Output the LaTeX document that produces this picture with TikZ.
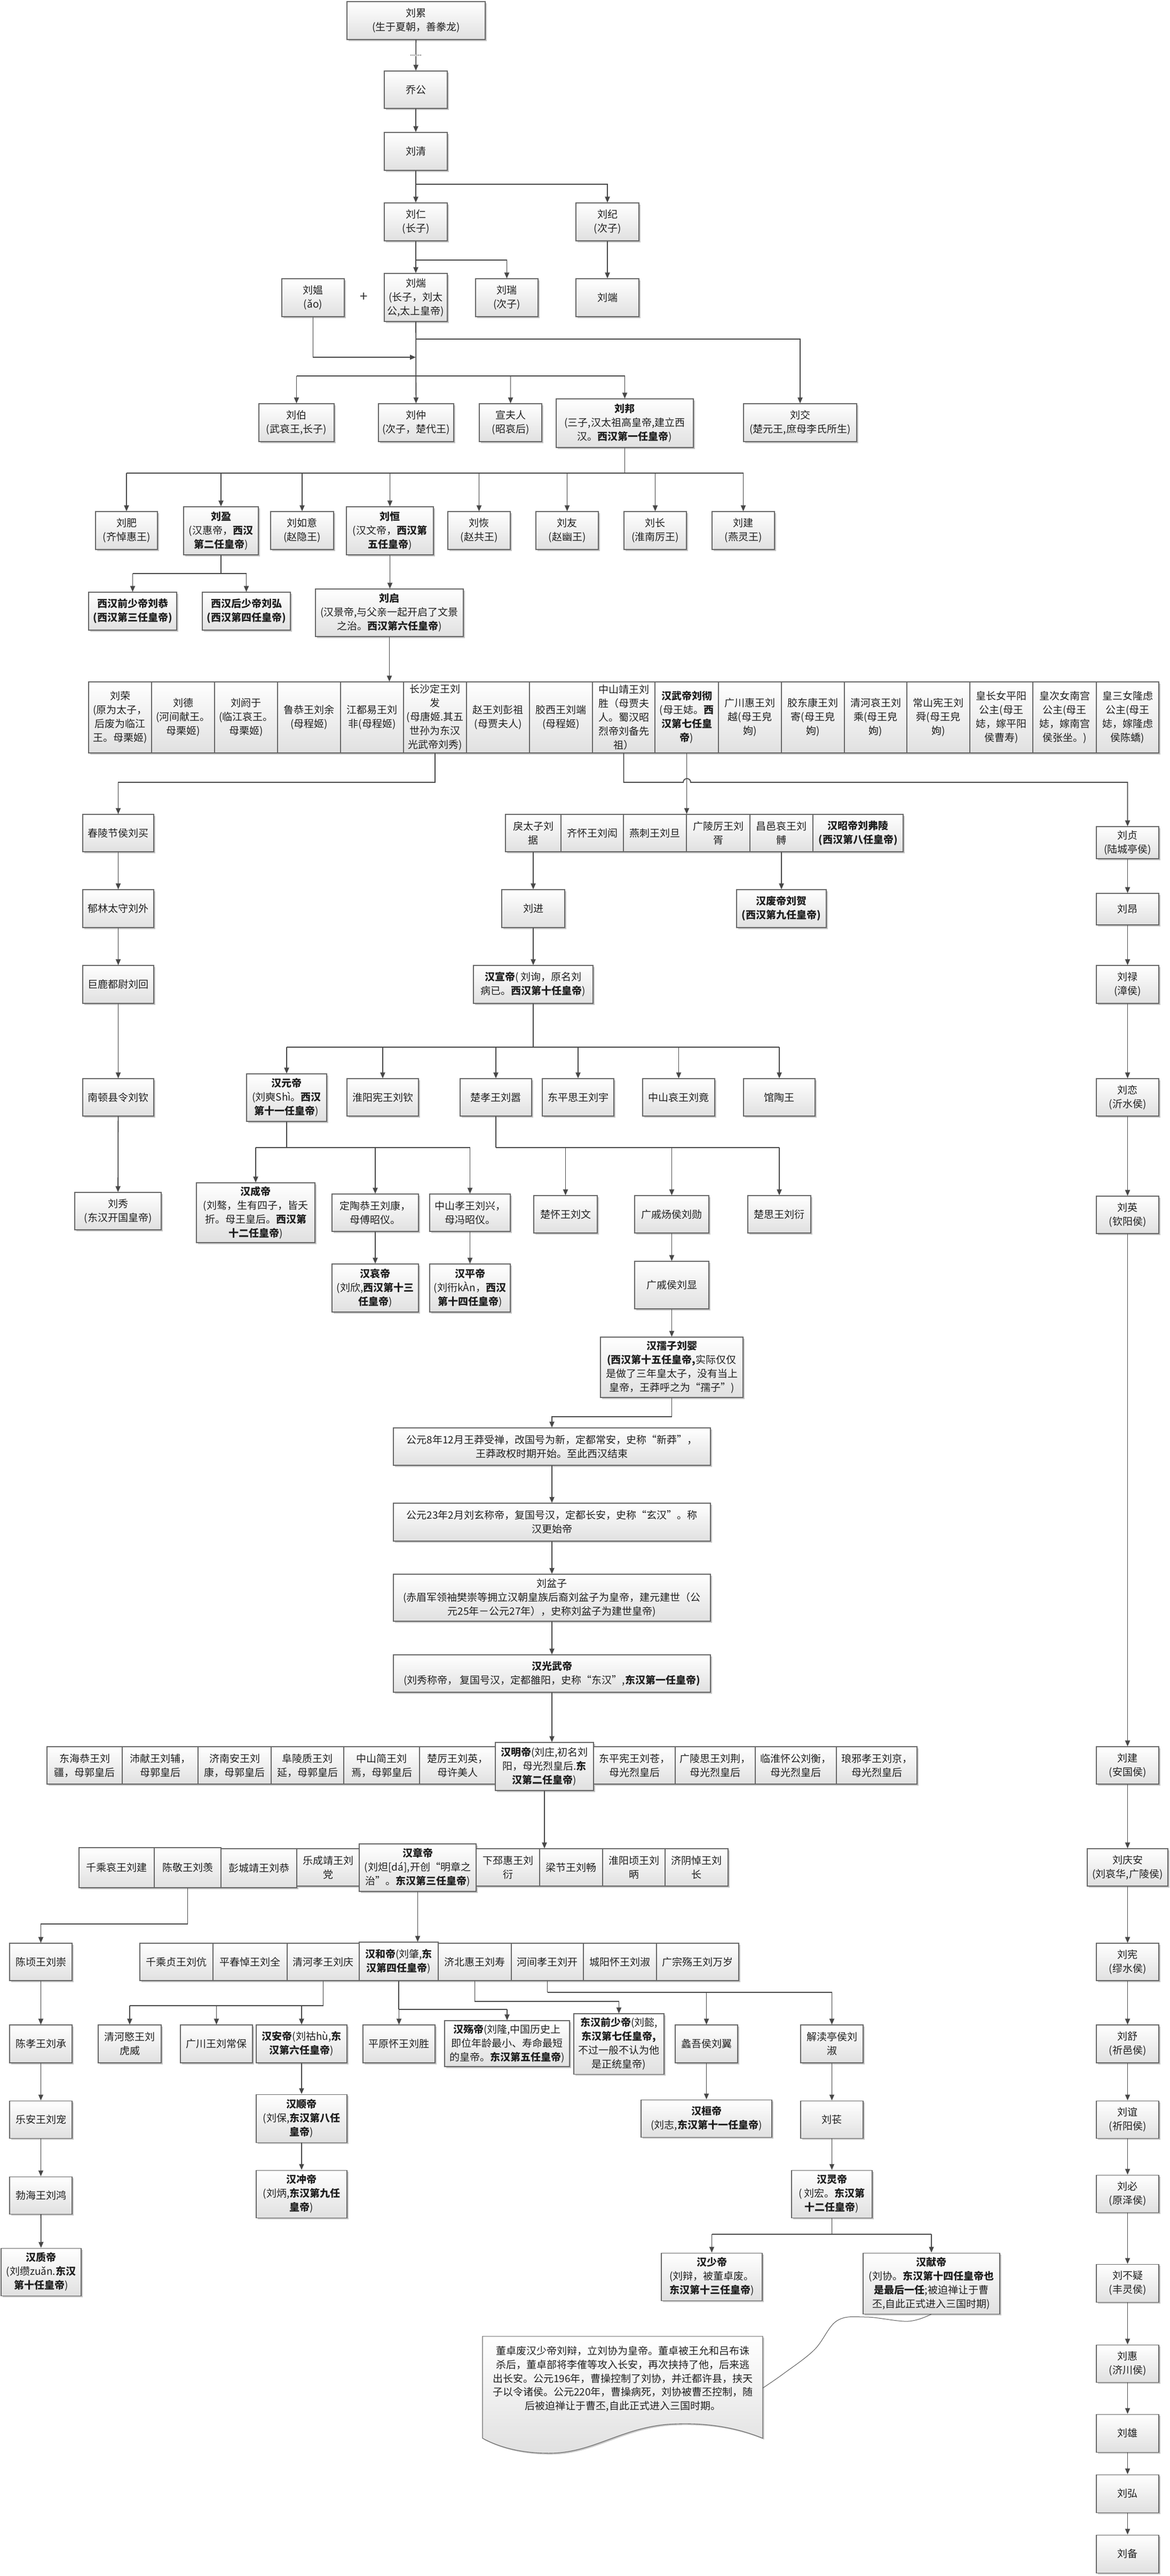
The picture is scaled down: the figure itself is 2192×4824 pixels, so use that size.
\documentclass[tikz,border=0pt]{standalone}
\usepackage{fontspec}
\setmainfont{Noto Sans CJK SC}
\usetikzlibrary{arrows.meta,shadows}
\tikzset{
  box/.style={draw=black!60, line width=1.1pt, top color=white, bottom color=black!12,
    align=center, inner sep=0pt, text=black!88, font=\fontsize{19}{26}\selectfont,
    general shadow={fill=black!22, shadow xshift=2.5pt, shadow yshift=-2.5pt}},
  ln/.style={line width=1.8pt, draw=black!72},
  ar/.style={ln, -{Triangle[length=11pt,width=9pt]}},
}
\newcommand\bxn[6]{%
  \pgfmathsetmacro\myW{#4-#2}\pgfmathsetmacro\myH{#5-#3}%
  \pgfmathsetmacro\myX{(#2+#4)/2}\pgfmathsetmacro\myY{(#3+#5)/2}%
  \node[box, minimum width=\myW pt, minimum height=\myH pt] (#1) at (\myX,\myY) {#6};}
\newcommand\fan[3]{%
  \draw[ln] (#1.south) -- (#1.south |- 0,#2);
  \foreach \kid in {#3}{\draw[ln] (#1.south |- 0,#2) -- (\kid.north |- 0,#2);
    \draw[ar] (\kid.north |- 0,#2) -- (\kid.north);}}
\begin{document}
\begin{tikzpicture}[x=1pt,y=-1pt]
\useasboundingbox (0,0) rectangle (2192,4824);
\fill[white] (0,0) rectangle (2192,4824);

% ---------- top ancestry ----------
\bxn{lei}{650}{3}{909}{74}{刘累\\(生于夏朝，善豢龙)}
\bxn{qiao}{720}{133}{838}{203}{乔公}
\bxn{qing}{720}{248}{838}{319}{刘清}
\bxn{ren}{720}{380}{838}{451}{刘仁\\(长子)}
\bxn{ji}{1079}{380}{1197}{451}{刘纪\\(次子)}
\bxn{tuan}{720}{512}{838}{602}{刘煓\\(长子，刘太\\公,太上皇帝)}
\bxn{rui}{891}{522}{1008}{593}{刘瑞\\(次子)}
\bxn{duan}{1079}{522}{1197}{593}{刘端}
\bxn{ao}{528}{522}{645}{593}{刘媪\\(ǎo)}
\node[font=\fontsize{26}{26}\selectfont, text=black!80] (plus) at (682,556) {+};
\coordinate (aoj) at (779,669);
\bxn{bo}{485}{756}{626}{827}{刘伯\\(武哀王,长子)}
\bxn{zhong}{709}{756}{850}{827}{刘仲\\(次子，楚代王)}
\bxn{xuan}{898}{756}{1015}{827}{宣夫人\\(昭哀后)}
\bxn{bang}{1042}{747}{1299}{838}{\textbf{刘邦}\\(三子,汉太祖高皇帝,建立西\\汉。\textbf{西汉第一任皇帝})}
\bxn{jiao}{1393}{756}{1605}{827}{刘交\\(楚元王,庶母李氏所生)}

% ---------- Liu Bang's sons ----------
\bxn{fei}{179}{958}{295}{1029}{刘肥\\(齐悼惠王)}
\bxn{ying}{344}{949}{484}{1039}{\textbf{刘盈}\\(汉惠帝，\textbf{西汉}\\\textbf{第二任皇帝})}
\bxn{ruyi}{507}{958}{625}{1029}{刘如意\\(赵隐王)}
\bxn{heng}{649}{949}{812}{1039}{\textbf{刘恒}\\(汉文帝，\textbf{西汉第}\\\textbf{五任皇帝})}
\bxn{hui}{839}{958}{956}{1029}{刘恢\\(赵共王)}
\bxn{you}{1004}{958}{1121}{1029}{刘友\\(赵幽王)}
\bxn{chang}{1169}{958}{1286}{1029}{刘长\\(淮南厉王)}
\bxn{jianA}{1334}{958}{1451}{1029}{刘建\\(燕灵王)}
\bxn{gong}{166}{1109}{331}{1180}{\textbf{西汉前少帝刘恭}\\\textbf{(西汉第三任皇帝)}}
\bxn{hong}{379}{1109}{544}{1180}{\textbf{西汉后少帝刘弘}\\\textbf{(西汉第四任皇帝)}}
\bxn{qi}{591}{1103}{868}{1192}{\textbf{刘启}\\(汉景帝,与父亲一起开启了文景\\之治。\textbf{西汉第六任皇帝})}

% ---------- Liu Qi's children row ----------
\bxn{rong}{166}{1277}{284}{1410}{刘荣\\(原为太子，\\后废为临江\\王。母栗姬)}
\bxn{de}{284}{1277}{402}{1410}{刘德\\(河间献王。\\母栗姬)}
\bxn{eyu}{402}{1277}{520}{1410}{刘阏于\\(临江哀王。\\母栗姬)}
\bxn{yu}{520}{1277}{638}{1410}{鲁恭王刘余\\(母程姬)}
\bxn{jiangdu}{638}{1277}{756}{1410}{江都易王刘\\非(母程姬)}
\bxn{changsha}{756}{1277}{874}{1410}{长沙定王刘\\发\\(母唐姬.其五\\世孙为东汉\\光武帝刘秀)}
\bxn{pengzu}{874}{1277}{992}{1410}{赵王刘彭祖\\(母贾夫人)}
\bxn{duan2}{992}{1277}{1110}{1410}{胶西王刘端\\(母程姬)}
\bxn{zhongshan}{1110}{1277}{1227}{1410}{中山靖王刘\\胜（母贾夫\\人。蜀汉昭\\烈帝刘备先\\祖）}
\bxn{wudi}{1227}{1277}{1346}{1410}{\textbf{汉武帝刘彻}\\(母王娡。\textbf{西}\\\textbf{汉第七任皇}\\\textbf{帝})}
\bxn{yue}{1346}{1277}{1464}{1410}{广川惠王刘\\越(母王皃\\姁)}
\bxn{jiqi}{1464}{1277}{1582}{1410}{胶东康王刘\\寄(母王皃\\姁)}
\bxn{chengh}{1582}{1277}{1699}{1410}{清河哀王刘\\乘(母王皃\\姁)}
\bxn{shun}{1699}{1277}{1817}{1410}{常山宪王刘\\舜(母王皃\\姁)}
\bxn{pingyang}{1817}{1277}{1935}{1410}{皇长女平阳\\公主(母王\\娡，嫁平阳\\侯曹寿)}
\bxn{nangong}{1935}{1277}{2054}{1410}{皇次女南宫\\公主(母王\\娡，嫁南宫\\侯张坐。)}
\bxn{longlv}{2054}{1277}{2171}{1410}{皇三女隆虑\\公主(母王\\娡，嫁隆虑\\侯陈蟜)}

% ---------- left chain to Liu Xiu ----------
\bxn{chunling}{155}{1525}{288}{1595}{春陵节侯刘买}
\bxn{yulin}{155}{1666}{288}{1737}{郁林太守刘外}
\bxn{julu}{155}{1808}{288}{1879}{巨鹿都尉刘回}
\bxn{nandun}{155}{2020}{288}{2090}{南顿县令刘钦}
\bxn{xiu}{140}{2233}{302}{2303}{刘秀\\(东汉开国皇帝)}

% ---------- Wudi's sons ----------
\bxn{ju}{947}{1525}{1051}{1595}{戾太子刘\\据}
\bxn{hongq}{1051}{1525}{1168}{1595}{齐怀王刘闳}
\bxn{dan}{1168}{1525}{1286}{1595}{燕刺王刘旦}
\bxn{xu}{1286}{1525}{1405}{1595}{广陵厉王刘\\胥}
\bxn{bo2}{1405}{1525}{1523}{1595}{昌邑哀王刘\\髆}
\bxn{zhao}{1523}{1525}{1692}{1595}{\textbf{汉昭帝刘弗陵}\\\textbf{(西汉第八任皇帝)}}
\bxn{jin}{940}{1666}{1058}{1737}{刘进}
\bxn{he2}{1380}{1666}{1548}{1737}{\textbf{汉废帝刘贺}\\\textbf{(西汉第九任皇帝)}}
\bxn{xuandi}{887}{1808}{1111}{1879}{\textbf{汉宣帝}( 刘询，原名刘\\病已。\textbf{西汉第十任皇帝})}

% ---------- Xuandi's sons ----------
\bxn{yuan}{462}{2011}{612}{2100}{\textbf{汉元帝}\\(刘奭Shì。\textbf{西汉}\\\textbf{第十一任皇帝})}
\bxn{qin}{650}{2020}{784}{2090}{淮阳宪王刘钦}
\bxn{xiao}{862}{2020}{996}{2090}{楚孝王刘嚣}
\bxn{yuzi}{1016}{2020}{1150}{2090}{东平思王刘宇}
\bxn{jing}{1204}{2020}{1339}{2090}{中山哀王刘竟}
\bxn{guantao}{1393}{2020}{1527}{2090}{馆陶王}
\bxn{chengdi}{368}{2215}{590}{2327}{\textbf{汉成帝}\\(刘骜，生有四子，皆夭\\折。母王皇后。\textbf{西汉第}\\\textbf{十二任皇帝})}
\bxn{kang}{622}{2236}{784}{2306}{定陶恭王刘康，\\母傅昭仪。}
\bxn{xing}{805}{2236}{956}{2306}{中山孝王刘兴，\\母冯昭仪。}
\bxn{wen}{1000}{2239}{1119}{2309}{楚怀王刘文}
\bxn{xun}{1189}{2239}{1328}{2309}{广戚炀侯刘勋}
\bxn{yan}{1401}{2239}{1519}{2309}{楚思王刘衍}
\bxn{aidi}{622}{2367}{784}{2457}{\textbf{汉哀帝}\\(刘欣,\textbf{西汉第十三}\\\textbf{任皇帝})}
\bxn{pingdi}{805}{2367}{956}{2457}{\textbf{汉平帝}\\(刘衎kÀn，\textbf{西汉}\\\textbf{第十四任皇帝})}
\bxn{xian2}{1189}{2362}{1328}{2451}{广戚侯刘显}
\bxn{ruzi}{1125}{2504}{1392}{2617}{\textbf{汉孺子刘婴}\\\textbf{(西汉第十五任皇帝,}实际仅仅\\是做了三年皇太子，没有当上\\皇帝，王莽呼之为“孺子”)}

% ---------- transition ----------
\bxn{gy8}{737}{2674}{1331}{2744}{公元8年12月王莽受禅，改国号为新，定都常安，史称“新莽”，\\王莽政权时期开始。至此西汉结束}
\bxn{gy23}{737}{2815}{1331}{2886}{公元23年2月刘玄称帝，复国号汉，定都长安，史称“玄汉”。称\\汉更始帝}
\bxn{penzi}{737}{2948}{1331}{3036}{刘盆子\\(赤眉军领袖樊崇等拥立汉朝皇族后裔刘盆子为皇帝，建元建世（公\\元25年－公元27年），史称刘盆子为建世皇帝)}
\bxn{guangwu}{737}{3099}{1331}{3169}{\textbf{汉光武帝}\\(刘秀称帝，\ 复国号汉，定都雒阳，史称“东汉”,\textbf{东汉第一任皇帝)}}

% ---------- Guangwu's sons ----------
\bxn{jiang}{88}{3271}{229}{3341}{东海恭王刘\\疆，母郭皇后}
\bxn{fu}{229}{3271}{371}{3341}{沛献王刘辅，\\母郭皇后}
\bxn{kang2}{371}{3271}{508}{3341}{济南安王刘\\康，母郭皇后}
\bxn{yan2}{508}{3271}{644}{3341}{阜陵质王刘\\延，母郭皇后}
\bxn{yan3}{644}{3271}{786}{3341}{中山简王刘\\焉，母郭皇后}
\bxn{ying2}{786}{3271}{928}{3341}{楚厉王刘英，\\母许美人}
\bxn{ming}{928}{3263}{1112}{3353}{\textbf{汉明帝}(刘庄,初名刘\\阳，母光烈皇后.\textbf{东}\\\textbf{汉第二任皇帝})}
\bxn{cang}{1112}{3271}{1265}{3341}{东平宪王刘苍，\\母光烈皇后}
\bxn{jing2}{1265}{3271}{1415}{3341}{广陵思王刘荆，\\母光烈皇后}
\bxn{heng2}{1415}{3271}{1567}{3341}{临淮怀公刘衡，\\母光烈皇后}
\bxn{jing3}{1567}{3271}{1718}{3341}{琅邪孝王刘京，\\母光烈皇后}

% ---------- Mingdi's sons ----------
\bxn{jianB}{148}{3460}{289}{3535}{千乘哀王刘建}
\bxn{xian3}{289}{3460}{414}{3535}{陈敬王刘羡}
\bxn{gong2}{414}{3462}{556}{3535}{彭城靖王刘恭}
\bxn{dang}{556}{3462}{673}{3532}{乐成靖王刘\\党}
\bxn{zhang}{673}{3453}{892}{3542}{\textbf{汉章帝}\\(刘炟[dá],开创“明章之\\治”。\textbf{东汉第三任皇帝})}
\bxn{yan4}{892}{3462}{1011}{3532}{下邳惠王刘\\衍}
\bxn{chang2}{1011}{3462}{1129}{3532}{梁节王刘畅}
\bxn{bing}{1129}{3462}{1246}{3532}{淮阳顷王刘\\昞}
\bxn{chang3}{1246}{3462}{1364}{3532}{济阴悼王刘\\长}

% ---------- Chen line ----------
\bxn{chong}{18}{3639}{135}{3709}{陈顷王刘崇}
\bxn{chengA}{18}{3792}{135}{3863}{陈孝王刘承}
\bxn{chongB}{18}{3934}{135}{4004}{乐安王刘宠}
\bxn{hongB}{18}{4076}{135}{4146}{勃海王刘鸿}
\bxn{zhi}{2}{4210}{152}{4299}{\textbf{汉质帝}\\(刘缵zuǎn.\textbf{东汉}\\\textbf{第十任皇帝})}

% ---------- Zhangdi's sons ----------
\bxn{kang3}{262}{3639}{399}{3709}{千乘贞王刘伉}
\bxn{quan}{399}{3639}{538}{3709}{平春悼王刘全}
\bxn{qing2}{538}{3639}{673}{3709}{清河孝王刘庆}
\bxn{hedi}{673}{3637}{821}{3709}{\textbf{汉和帝}(刘肇,\textbf{东}\\\textbf{汉第四任皇帝})}
\bxn{shou}{821}{3639}{958}{3709}{济北惠王刘寿}
\bxn{kai}{958}{3639}{1093}{3709}{河间孝王刘开}
\bxn{shu2}{1093}{3639}{1230}{3709}{城阳怀王刘淑}
\bxn{wansui}{1230}{3639}{1384}{3709}{广宗殇王刘万岁}

\bxn{huwei}{184}{3792}{302}{3863}{清河愍王刘\\虎威}
\bxn{changbao}{338}{3792}{473}{3863}{广川王刘常保}
\bxn{andi}{480}{3792}{650}{3863}{\textbf{汉安帝}(刘祜hù,\textbf{东}\\\textbf{汉第六任皇帝})}
\bxn{shundi}{480}{3922}{650}{4012}{\textbf{汉顺帝}\\(刘保,\textbf{东汉第八任}\\\textbf{皇帝})}
\bxn{chongdi}{480}{4064}{650}{4153}{\textbf{汉冲帝}\\(刘炳,\textbf{东汉第九任}\\\textbf{皇帝})}
\bxn{sheng2}{680}{3792}{815}{3863}{平原怀王刘胜}
\bxn{shangdi}{833}{3784}{1067}{3870}{\textbf{汉殇帝}(刘隆,中国历史上\\即位年龄最小、寿命最短\\的皇帝。\textbf{东汉第五任皇帝})}
\bxn{qianshao}{1075}{3771}{1244}{3884}{\textbf{东汉前少帝}(刘懿,\\\textbf{东汉第七任皇帝,}\\不过一般不认为他\\是正统皇帝)}
\bxn{yi2}{1265}{3792}{1382}{3863}{蠡吾侯刘翼}
\bxn{xiedu}{1500}{3792}{1617}{3863}{解渎亭侯刘\\淑}
\bxn{huan}{1201}{3932}{1446}{4002}{\textbf{汉桓帝}\\(刘志,\textbf{东汉第十一任皇帝})}
\bxn{changB}{1500}{3934}{1617}{4004}{刘苌}
\bxn{ling}{1483}{4064}{1634}{4153}{\textbf{汉灵帝}\\( 刘宏。\textbf{东汉第}\\\textbf{十二任皇帝})}
\bxn{shaodi}{1239}{4219}{1428}{4308}{\textbf{汉少帝}\\(刘辩，被董卓废。\\\textbf{东汉第十三任皇帝})}
\bxn{xiandi}{1617}{4219}{1873}{4333}{\textbf{汉献帝}\\(刘协。\textbf{东汉第十四任皇帝也}\\\textbf{是最后一任};被迫禅让于曹\\丕,自此正式进入三国时期)}

% ---------- note (document shape) ----------
\draw[line width=1.1pt, draw=black!60, top color=white, bottom color=black!12,
    general shadow={fill=black!22, shadow xshift=2.5pt, shadow yshift=-2.5pt}]
  (904,4375) -- (1429,4375) -- (1429,4566)
  .. controls (1370,4542) and (1310,4536) .. (1250,4540)
  .. controls (1160,4548) and (1110,4594) .. (1028,4594)
  .. controls (970,4594) and (930,4580) .. (904,4566) -- cycle;
\node[align=center, inner sep=0pt, text=black!88, font=\fontsize{19}{25.7}\selectfont] (note) at (1167,4455)
  {董卓废汉少帝刘辩，立刘协为皇帝。董卓被王允和吕布诛\\杀后，董卓部将李傕等攻入长安，再次挟持了他，后来逃\\出长安。公元196年，曹操控制了刘协，并迁都许县，挟天\\子以令诸侯。公元220年，曹操病死，刘协被曹丕控制，随\\后被迫禅让于曹丕,自此正式进入三国时期。};
\coordinate (noteR) at (1429,4472);

% ---------- right chain ----------
\bxn{zhen}{2054}{1548}{2171}{1608}{刘贞\\(陆城亭侯)}
\bxn{ang}{2054}{1673}{2171}{1732}{刘昂}
\bxn{lu}{2054}{1808}{2171}{1879}{刘禄\\(漳侯)}
\bxn{lian}{2054}{2020}{2171}{2090}{刘恋\\(沂水侯)}
\bxn{yingB}{2054}{2240}{2171}{2310}{刘英\\(钦阳侯)}
\bxn{jianC}{2054}{3271}{2171}{3341}{刘建\\(安国侯)}
\bxn{qingan}{2037}{3462}{2188}{3532}{刘庆安\\(刘哀华,广陵侯)}
\bxn{xianB}{2054}{3639}{2171}{3709}{刘宪\\(缪水侯)}
\bxn{shuB}{2054}{3792}{2171}{3863}{刘舒\\(祈邑侯)}
\bxn{yiB}{2054}{3934}{2171}{4004}{刘谊\\(祈阳侯)}
\bxn{biB}{2054}{4073}{2171}{4143}{刘必\\(原泽侯)}
\bxn{buyi}{2054}{4240}{2171}{4311}{刘不疑\\(丰灵侯)}
\bxn{huiB}{2054}{4391}{2171}{4461}{刘惠\\(济川侯)}
\bxn{xiong}{2054}{4521}{2171}{4592}{刘雄}
\bxn{hongC}{2054}{4634}{2171}{4705}{刘弘}
\bxn{bei}{2054}{4747}{2171}{4818}{刘备}

% ---------- connectors ----------
\draw[ar] (lei) -- node[fill=white, inner sep=1pt, text=black!85, font=\fontsize{13}{13}\selectfont]{......} (qiao);
\draw[ar] (qiao) -- (qing);
\draw[ar] (qing) -- (ren);
\draw[ar] (qing.south |- 0,345) -| (ji.north);
\draw[ar] (ren) -- (tuan);
\draw[ar] (ren.south |- 0,487) -| (rui.north);
\draw[ar] (ji) -- (duan);
\draw[ar] (ao.south) |- (aoj);
\draw[ar] (tuan) -- (zhong);
\draw[ar] (tuan.south |- 0,635) -| (jiao.north);
\draw[ln] (bo.north |- 0,704) -- (bang.north |- 0,704);
\foreach \kid in {bo,xuan,bang}{\draw[ar] (\kid.north |- 0,704) -- (\kid.north);}

\fan{bang}{886}{fei,ying,ruyi,heng,hui,you,chang,jianA}
\fan{ying}{1074}{gong,hong}
\draw[ar] (heng.south) -- (heng.south |- qi.north);
\draw[ar] (qi.south) -- (qi.south |- jiangdu.north);

\draw[ar] (changsha.south) -- (changsha.south |- 0,1465) -| (chunling.north);
\foreach \a/\b in {chunling/yulin,yulin/julu,julu/nandun,nandun/xiu}{\draw[ar] (\a) -- (\b);}
\draw[ar] (zhongshan.south) -- (zhongshan.south |- 0,1465) -- (1280,1465)
  arc[start angle=180, end angle=360, radius=7] -- (zhen.north |- 0,1465) -- (zhen.north);
\draw[ar] (wudi.south) -- (wudi.south |- xu.north);
\draw[ar] (ju) -- (jin);
\draw[ar] (jin) -- (xuandi);
\draw[ar] (bo2) -- (he2);

\fan{xuandi}{1961}{yuan,qin,xiao,yuzi,jing,guantao}
\fan{yuan}{2149}{chengdi,kang,xing}
\fan{xiao}{2149}{wen,xun,yan}
\draw[ar] (kang) -- (aidi);
\draw[ar] (xing) -- (pingdi);
\draw[ar] (xun) -- (xian2);
\draw[ar] (xian2) -- (ruzi);
\draw[ar] (ruzi.south) -- (ruzi.south |- 0,2653) -| (gy8.north);
\draw[ar] (gy8) -- (gy23);
\draw[ar] (gy23) -- (penzi);
\draw[ar] (penzi) -- (guangwu);
\draw[ar] (guangwu.south) -- (guangwu.south |- ming.north);
\draw[ar] (ming.south) -- (ming.south |- chang2.north);

\draw[ar] (xian3.south) -- (xian3.south |- 0,3603) -| (chong.north);
\foreach \a/\b in {chong/chengA,chengA/chongB,chongB/hongB,hongB/zhi}{\draw[ar] (\a) -- (\b);}
\draw[ar] (zhang.south) -- (zhang.south |- hedi.north);
\fan{qing2}{3756}{huwei,changbao,andi}
\draw[ar] (andi) -- (shundi);
\draw[ar] (shundi) -- (chongdi);
\fan{hedi}{3763}{sheng2,shangdi}
\draw[ar] (shou.south) -- (shou.south |- 0,3748) -| (qianshao.north);
\fan{kai}{3731}{yi2,xiedu}
\draw[ar] (yi2) -- (huan);
\draw[ar] (xiedu) -- (changB);
\draw[ar] (changB) -- (ling);
\fan{ling}{4184}{shaodi,xiandi}
\draw[line width=1pt, draw=black!65] plot[smooth, tension=0.6] coordinates
  {(xiandi.south) (1701,4347) (1623,4339) (1568,4346) (1526,4400) (1468,4445) (noteR)};

\foreach \a/\b in {zhen/ang,ang/lu,lu/lian,lian/yingB,yingB/jianC,jianC/qingan,qingan/xianB,
  xianB/shuB,shuB/yiB,yiB/biB,biB/buyi,buyi/huiB,huiB/xiong,xiong/hongC,hongC/bei}{\draw[ar] (\a) -- (\b);}
\end{tikzpicture}
\end{document}
